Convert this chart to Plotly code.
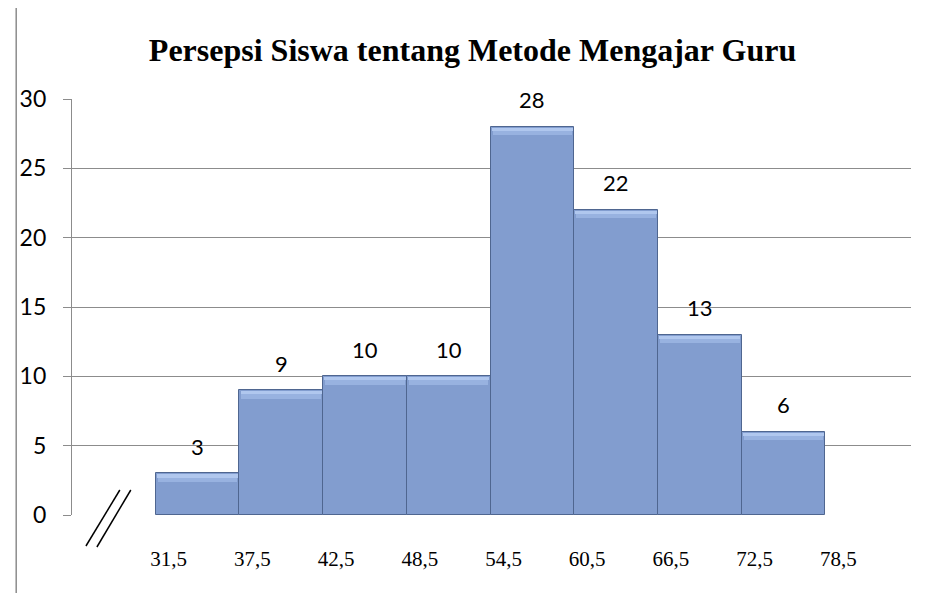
import plotly.graph_objects as go

# ---- data ----
class_limits = ["31,5", "37,5", "42,5", "48,5", "54,5", "60,5", "66,5", "72,5", "78,5"]
frequencies = [3, 9, 10, 10, 28, 22, 13, 6]
y_ticks = [0, 5, 10, 15, 20, 25, 30]
title_text = "Persepsi Siswa tentang Metode Mengajar Guru"

n = len(frequencies)
bar_x = list(range(1, n + 1))
boundaries = [i + 0.5 for i in range(0, n + 1)]

OFF = 8                      # page body margin
W, H = 926 - OFF, 593 - OFF  # figure size
L, R, T, B = 69 - OFF, 911 - OFF, 99 - OFF, 515 - OFF   # plot area in figure pixels
pw, ph = R - L, B - T

def px(x):
    return (x - OFF - L) / pw

def py(y):
    return (B - (y - OFF)) / ph

fig = go.Figure()

# main bars
fig.add_trace(go.Bar(
    x=bar_x, y=frequencies, width=1.0,
    marker=dict(color="#829DCF", line=dict(color="#4F6690", width=1)),
    hoverinfo="skip", showlegend=False,
))
# bevel highlights (derived from the same values)
for depth, wid, col in [(0.6, 0.95, "#98B2E0"), (0.3, 0.97, "#B0C7EE")]:
    fig.add_trace(go.Bar(
        x=bar_x, y=[depth - 0.07] * n, base=[v - depth for v in frequencies], width=wid,
        marker=dict(color=col, line=dict(width=0)),
        hoverinfo="skip", showlegend=False,
    ))

# value labels
for xi, v in zip(bar_x, frequencies):
    fig.add_annotation(
        x=xi, y=v, text=str(v), showarrow=False, yshift=27,
        yanchor="middle", xanchor="center",
        font=dict(family="Lato, Calibri, sans-serif", size=22, color="#000000"),
    )

shapes = []
# outer frame (left and top)
frame = dict(type="line", xref="paper", yref="paper",
             line=dict(color="#8C8C8C", width=1.5), layer="above")
shapes.append({**frame, "x0": px(13), "y0": py(7), "x1": px(13), "y1": py(600)})
shapes.append({**frame, "x0": px(13), "y0": py(7), "x1": px(930), "y1": py(7)})
# axis-break double slash
brk = dict(type="line", xref="paper", yref="paper",
           line=dict(color="#000000", width=1.5))
shapes.append({**brk, "x0": px(83), "y0": py(546), "x1": px(117), "y1": py(490)})
shapes.append({**brk, "x0": px(94), "y0": py(547), "x1": px(128), "y1": py(490)})

fig.update_layout(
    width=W, height=H,
    margin=dict(l=L, r=W - R, t=T, b=H - B, pad=0),
    paper_bgcolor="white", plot_bgcolor="white",
    barmode="overlay", bargap=0,
    title=dict(
        text="<b>" + title_text + "</b>",
        x=(472.5 - OFF) / W, xanchor="center", xref="container",
        y=1 - (50 - OFF) / H, yanchor="middle", yref="container",
        font=dict(family="Liberation Serif, Times New Roman, serif", size=32, color="#000000"),
    ),
    xaxis=dict(
        range=[-0.5, 9.524], tickmode="array",
        tickvals=boundaries, ticktext=class_limits,
        showgrid=False, zeroline=False, showline=False, ticks="",
        ticklabelshift=13, ticklabelstandoff=29,
        tickfont=dict(family="Liberation Serif, Times New Roman, serif", size=21, color="#000000"),
        fixedrange=True,
    ),
    yaxis=dict(
        range=[0, 30], tickmode="array", tickvals=y_ticks,
        showgrid=True, gridcolor="#8C8C8C", gridwidth=1.3,
        zeroline=False, showline=True, linecolor="#8C8C8C", linewidth=1.3,
        ticks="outside", ticklen=8, tickcolor="#8C8C8C", tickwidth=1.3,
        ticklabelstandoff=12,
        tickfont=dict(family="Lato, Calibri, sans-serif", size=23, color="#000000"),
        fixedrange=True,
    ),
    shapes=shapes,
)

fig.write_html("out.html")
